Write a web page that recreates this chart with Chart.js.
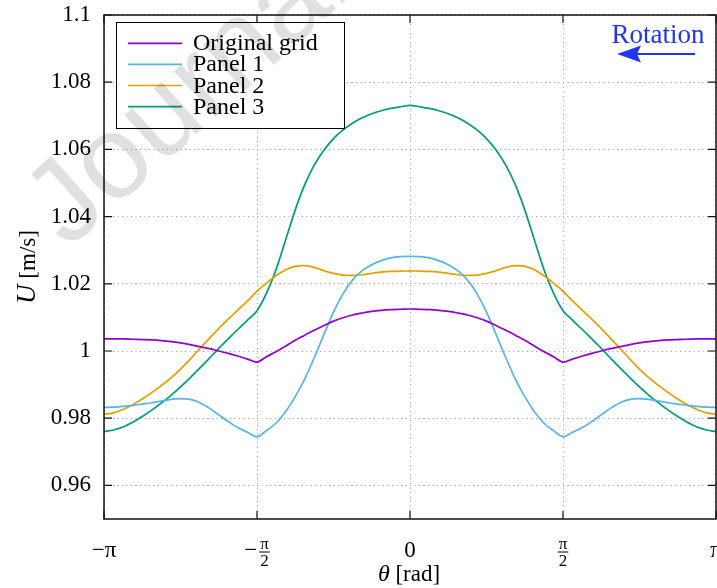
<!DOCTYPE html>
<html>
<head>
<meta charset="utf-8">
<title>Velocity profile over theta</title>
<script src="https://cdn.jsdelivr.net/npm/chart.js"></script>
<style>
  html, body { margin: 0; padding: 0; background: #fff; }
</style>
</head>
<body>
<canvas id="uChart" width="717" height="588"></canvas>
<script>
// theta in units of pi
var thetaPi = [-1, -0.969, -0.938, -0.906, -0.875, -0.844, -0.813, -0.781, -0.75, -0.719, -0.688, -0.656, -0.625, -0.594, -0.563, -0.531,
  -0.5, -0.469, -0.438, -0.406, -0.375, -0.344, -0.313, -0.281, -0.25, -0.219, -0.188, -0.156, -0.125, -0.094, -0.063, -0.031,
  0, 0.031, 0.063, 0.094, 0.125, 0.156, 0.188, 0.219, 0.25, 0.281, 0.313, 0.344, 0.375, 0.406, 0.438, 0.469,
  0.5, 0.531, 0.563, 0.594, 0.625, 0.656, 0.688, 0.719, 0.75, 0.781, 0.813, 0.844, 0.875, 0.906, 0.938, 0.969, 1];

var originalGrid = [1.0036, 1.0036, 1.0036, 1.0035, 1.0034, 1.0033, 1.0031, 1.0028, 1.0024, 1.0019, 1.0013, 1.0007, 1.0000, 0.9993, 0.9985, 0.9976,
  0.9967, 0.9983, 0.9998, 1.0015, 1.0032, 1.0047, 1.0062, 1.0076, 1.0089, 1.0099, 1.0107, 1.0113, 1.0118, 1.0121, 1.0123, 1.0124,
  1.0125, 1.0124, 1.0123, 1.0121, 1.0118, 1.0113, 1.0107, 1.0099, 1.0089, 1.0076, 1.0062, 1.0047, 1.0032, 1.0015, 0.9998, 0.9983,
  0.9967, 0.9976, 0.9985, 0.9993, 1.0000, 1.0007, 1.0013, 1.0019, 1.0024, 1.0028, 1.0031, 1.0033, 1.0034, 1.0035, 1.0036, 1.0036, 1.0036];

var panel1 = [0.9832, 0.9833, 0.9835, 0.9838, 0.9842, 0.9846, 0.9851, 0.9856, 0.9858, 0.9856, 0.9847, 0.9830, 0.9810, 0.9790, 0.9772, 0.9758,
  0.9745, 0.9763, 0.9785, 0.9820, 0.9864, 0.9917, 0.9980, 1.0050, 1.0116, 1.0170, 1.0211, 1.0239, 1.0257, 1.0269, 1.0277, 1.0281,
  1.0282, 1.0281, 1.0277, 1.0269, 1.0257, 1.0239, 1.0211, 1.0170, 1.0116, 1.0050, 0.9980, 0.9917, 0.9864, 0.9820, 0.9785, 0.9763,
  0.9745, 0.9758, 0.9772, 0.9790, 0.9810, 0.9830, 0.9847, 0.9856, 0.9858, 0.9856, 0.9851, 0.9846, 0.9842, 0.9838, 0.9835, 0.9833, 0.9832];

var panel2 = [0.9812, 0.9816, 0.9826, 0.9840, 0.9857, 0.9876, 0.9897, 0.9920, 0.9946, 0.9975, 1.0006, 1.0037, 1.0067, 1.0095, 1.0122, 1.0149,
  1.0178, 1.0202, 1.0224, 1.0242, 1.0252, 1.0254, 1.0249, 1.0239, 1.0231, 1.0226, 1.0225, 1.0227, 1.0231, 1.0235, 1.0237, 1.0238,
  1.0238, 1.0238, 1.0237, 1.0235, 1.0231, 1.0227, 1.0225, 1.0226, 1.0231, 1.0239, 1.0249, 1.0254, 1.0252, 1.0242, 1.0224, 1.0202,
  1.0178, 1.0149, 1.0122, 1.0095, 1.0067, 1.0037, 1.0006, 0.9975, 0.9946, 0.9920, 0.9897, 0.9876, 0.9857, 0.9840, 0.9826, 0.9816, 0.9812];

var panel3 = [0.9760, 0.9765, 0.9774, 0.9788, 0.9805, 0.9824, 0.9845, 0.9868, 0.9893, 0.9920, 0.9948, 0.9978, 1.0008, 1.0036, 1.0064, 1.0092,
  1.0120, 1.0172, 1.0242, 1.0332, 1.0420, 1.0495, 1.0553, 1.0598, 1.0632, 1.0658, 1.0678, 1.0694, 1.0706, 1.0715, 1.0722, 1.0727,
  1.0731, 1.0727, 1.0722, 1.0715, 1.0706, 1.0694, 1.0678, 1.0658, 1.0632, 1.0598, 1.0553, 1.0495, 1.0420, 1.0332, 1.0242, 1.0172,
  1.0120, 1.0092, 1.0064, 1.0036, 1.0008, 0.9978, 0.9948, 0.9920, 0.9893, 0.9868, 0.9845, 0.9824, 0.9805, 0.9788, 0.9774, 0.9765, 0.9760];

var seriesNames = ['Original grid', 'Panel 1', 'Panel 2', 'Panel 3'];
var seriesColors = ['#9400d3', '#56b4e9', '#e69f00', '#009e73'];

var xTicks = [-1, -0.5, 0, 0.5, 1];
var xTickLabels = ['−π', '−π/2', '0', 'π/2', 'π'];
var yTicks = [0.96, 0.98, 1, 1.02, 1.04, 1.06, 1.08, 1.1];

var SERIF = '"Liberation Serif", "DejaVu Serif", serif';

function toPoints(ys) {
  return thetaPi.map(function (t, i) { return { x: t, y: ys[i] }; });
}

var allSeries = [originalGrid, panel1, panel2, panel3];
var datasets = allSeries.map(function (ys, i) {
  return {
    label: seriesNames[i],
    data: toPoints(ys),
    borderColor: seriesColors[i],
    borderWidth: 1.7,
    pointRadius: 0,
    tension: 0.3,
    fill: false
  };
});

// box, inward ticks, x labels, axis titles, legend and annotation
var decorPlugin = {
  id: 'decor',
  afterDraw: function (chart) {
    var ctx = chart.ctx, a = chart.chartArea;
    var xs = chart.scales.x, ys = chart.scales.y;
    ctx.save();

    ctx.strokeStyle = '#111';
    ctx.lineWidth = 1.5;
    ctx.strokeRect(a.left, a.top, a.right - a.left, a.bottom - a.top);
    ctx.lineWidth = 1.2;
    ctx.beginPath();
    yTicks.forEach(function (v) {
      var y = ys.getPixelForValue(v);
      ctx.moveTo(a.left, y); ctx.lineTo(a.left + 8, y);
      ctx.moveTo(a.right, y); ctx.lineTo(a.right - 8, y);
    });
    xTicks.forEach(function (v) {
      var x = xs.getPixelForValue(v);
      ctx.moveTo(x, a.bottom); ctx.lineTo(x, a.bottom - 8);
      ctx.moveTo(x, a.top); ctx.lineTo(x, a.top + 8);
    });
    ctx.stroke();

    // x tick labels, fractions stacked
    ctx.fillStyle = '#000';
    xTickLabels.forEach(function (lab, i) {
      var x = xs.getPixelForValue(xTicks[i]);
      var neg = lab.charAt(0) === '−';
      var body = neg ? lab.slice(1) : lab;
      if (body.indexOf('/') < 0) {
        ctx.font = '23px ' + SERIF;
        ctx.textAlign = 'center';
        ctx.textBaseline = 'alphabetic';
        ctx.fillText(lab, x, 557);
        return;
      }
      var parts = body.split('/');
      ctx.font = '23px ' + SERIF;
      var signW = neg ? ctx.measureText('−').width + 2 : 0;
      ctx.font = '17px ' + SERIF;
      var fw = Math.max(ctx.measureText(parts[0]).width, ctx.measureText(parts[1]).width) + 2;
      var x0 = x - (signW + fw) / 2;
      ctx.textBaseline = 'alphabetic';
      if (neg) {
        ctx.font = '23px ' + SERIF;
        ctx.textAlign = 'left';
        ctx.fillText('−', x0, 557);
      }
      var fc = x0 + signW + fw / 2;
      ctx.font = '17px ' + SERIF;
      ctx.textAlign = 'center';
      ctx.fillText(parts[0], fc, 549);
      ctx.fillText(parts[1], fc, 566);
      ctx.fillRect(fc - fw / 2, 551.5, fw, 1);
    });

    // x title
    ctx.textAlign = 'left';
    ctx.font = 'italic 24px ' + SERIF;
    var th = 'θ';
    var thW = ctx.measureText(th).width;
    ctx.font = '23px ' + SERIF;
    var rest = ' [rad]';
    var rW = ctx.measureText(rest).width;
    var tx = 409 - (thW + rW) / 2;
    ctx.font = 'italic 24px ' + SERIF;
    ctx.fillText(th, tx, 581);
    ctx.font = '23px ' + SERIF;
    ctx.fillText(rest, tx + thW, 581);

    // y title
    ctx.save();
    ctx.translate(35, 267);
    ctx.rotate(-Math.PI / 2);
    ctx.font = 'italic 27px ' + SERIF;
    var uW = ctx.measureText('U').width;
    ctx.font = '23px ' + SERIF;
    var uRest = ' [m/s]';
    var uRW = ctx.measureText(uRest).width;
    var ux = -(uW + uRW) / 2;
    ctx.font = 'italic 27px ' + SERIF;
    ctx.fillText('U', ux, 0);
    ctx.font = '23px ' + SERIF;
    ctx.fillText(uRest, ux + uW, 0);
    ctx.restore();

    // legend
    ctx.fillStyle = '#fff';
    ctx.fillRect(116.5, 22.5, 228, 106);
    ctx.strokeStyle = '#000';
    ctx.lineWidth = 1;
    ctx.strokeRect(116.5, 22.5, 228, 106);
    ctx.font = '24px ' + SERIF;
    ctx.textAlign = 'left';
    ctx.textBaseline = 'alphabetic';
    seriesNames.forEach(function (name, i) {
      var ly = 43.3 + i * 21.1;
      ctx.strokeStyle = seriesColors[i];
      ctx.lineWidth = 1.7;
      ctx.beginPath();
      ctx.moveTo(128, ly); ctx.lineTo(182, ly);
      ctx.stroke();
      ctx.fillStyle = '#000';
      ctx.fillText(name, 193, ly + 7);
    });

    // rotation direction
    ctx.fillStyle = '#1f35f0';
    ctx.strokeStyle = '#1f35f0';
    ctx.font = '27px ' + SERIF;
    ctx.textAlign = 'center';
    ctx.fillText('Rotation', 658, 43);
    ctx.lineWidth = 2;
    ctx.beginPath();
    ctx.moveTo(636, 54); ctx.lineTo(695, 54);
    ctx.stroke();
    ctx.beginPath();
    ctx.moveTo(617, 54); ctx.lineTo(641, 45.5); ctx.lineTo(637, 54); ctx.lineTo(641, 62.5);
    ctx.closePath();
    ctx.fill();

    // faint stamp across the upper left
    ctx.translate(68, 250);
    ctx.rotate(-42 * Math.PI / 180);
    ctx.fillStyle = 'rgba(0,0,0,0.12)';
    ctx.font = '118px "Liberation Sans", Arial, sans-serif';
    ctx.textAlign = 'left';
    ctx.fillText('Journal Pre-proof', 0, 0);

    ctx.restore();
  }
};

new Chart(document.getElementById('uChart').getContext('2d'), {
  type: 'line',
  data: { datasets: datasets },
  options: {
    responsive: false,
    animation: false,
    layout: { padding: { top: 15, right: 1, left: 0, bottom: 0 } },
    plugins: { legend: { display: false }, tooltip: { enabled: false } },
    scales: {
      x: {
        type: 'linear',
        min: -1,
        max: 1,
        afterBuildTicks: function (s) { s.ticks = xTicks.map(function (v) { return { value: v }; }); },
        afterFit: function (s) { s.height = 69; s.paddingLeft = 0; s.paddingRight = 0; },
        ticks: { display: false },
        grid: { color: '#9a9a9a', lineWidth: 1, drawTicks: false },
        border: { display: false, dash: [1, 3.5] }
      },
      y: {
        min: 0.95,
        max: 1.1,
        afterBuildTicks: function (s) { s.ticks = yTicks.map(function (v) { return { value: v }; }); },
        afterFit: function (s) { s.width = 104; s.paddingTop = 0; s.paddingBottom = 0; },
        ticks: {
          color: '#000',
          padding: 13,
          font: { family: SERIF, size: 23 },
          callback: function (v) { return String(v); }
        },
        grid: { color: '#9a9a9a', lineWidth: 1, drawTicks: false },
        border: { display: false, dash: [1, 3.5] }
      }
    }
  },
  plugins: [decorPlugin]
});
</script>
</body>
</html>
